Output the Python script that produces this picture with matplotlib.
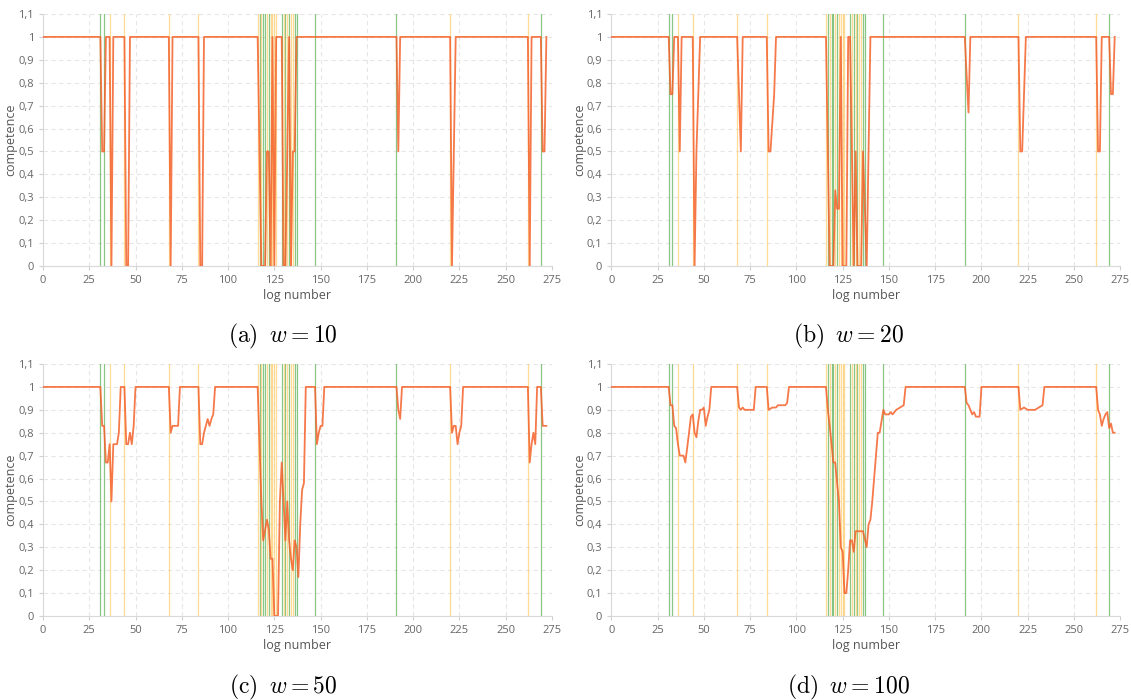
import matplotlib
matplotlib.use("Agg")
import matplotlib.pyplot as plt
from matplotlib.ticker import FuncFormatter, MultipleLocator

# -------------------------------
# DATA (log number -> competence), one series per window size
# -------------------------------

x_w10 = [0, 31, 32, 33, 34, 36, 37, 38, 44, 45, 46, 47, 68, 69, 70, 84, 85, 86, 87,
         116, 117, 118, 119, 120, 121, 122, 123, 124, 125, 126, 127, 128, 129, 130,
         131, 132, 133, 134, 135, 136, 137, 191, 192, 193, 220, 221, 222, 223,
         262, 263, 264, 269, 270, 271, 272]
y_w10 = [1, 1, 0.5, 0.5, 1, 1, 0, 1, 1, 0, 0, 1, 1, 0, 1, 1, 0, 0, 1,
         1, 0.5, 0, 0, 0, 0.5, 0.5, 0, 1, 0, 1, 1, 1, 1, 0,
         0, 0.5, 1, 0, 0.5, 0.5, 1, 1, 0.5, 1, 1, 0, 0.5, 1,
         1, 0, 1, 1, 0.5, 0.5, 1]

x_w20 = [0, 31, 32, 33, 34, 36, 37, 38, 44, 45, 46, 47, 48, 68, 69, 70, 71,
         84, 85, 86, 87, 88, 89, 116, 117, 118, 119, 120, 121, 122, 123, 124,
         125, 126, 127, 128, 129, 130, 131, 132, 133, 134, 135, 136, 137, 138,
         139, 140, 191, 192, 193, 194, 220, 221, 222, 223, 224, 262, 263, 264,
         265, 269, 270, 271, 272]
y_w20 = [1, 1, 0.75, 0.75, 1, 1, 0.5, 1, 1, 0, 0.5, 0.75, 1, 1, 0.75, 0.5, 1,
         1, 0.5, 0.5, 0.625, 0.75, 1, 1, 0.5, 0, 0, 0, 0.33, 0.25, 0.25, 1,
         0, 0, 0, 1, 1, 0.5, 0, 0.5, 0, 0, 0, 0.5, 0.25, 0,
         0.5, 1, 1, 0.83, 0.67, 1, 1, 0.5, 0.5, 0.75, 1, 1, 0.5, 0.5,
         1, 1, 0.75, 0.75, 1]

x_w50 = [0, 31, 32, 33, 34, 35, 36, 37, 38, 40, 41, 42, 44, 45, 46, 47, 48, 49, 50,
         68, 69, 70, 73, 74, 84, 85, 86, 87, 88, 89, 90, 91, 92, 93,
         116, 118, 119, 121, 122, 123, 124, 125, 127, 128, 129, 131, 132, 133,
         134, 135, 136, 137, 138, 139, 140, 141, 142, 147, 148, 149, 150, 151,
         152, 191, 192, 193, 194, 220, 221, 222, 223, 224, 225, 226, 227,
         262, 263, 264, 265, 266, 267, 269, 270, 272]
y_w50 = [1, 1, 0.83, 0.83, 0.67, 0.67, 0.75, 0.5, 0.75, 0.75, 0.8, 1, 1, 0.75, 0.75, 0.8, 0.75, 0.83, 1,
         1, 0.8, 0.83, 0.83, 1, 1, 0.75, 0.75, 0.8, 0.83, 0.86, 0.83, 0.86, 0.88, 1,
         1, 0.5, 0.33, 0.42, 0.38, 0.25, 0.25, 0, 0, 0.5, 0.67, 0.33, 0.5, 0.33,
         0.25, 0.2, 0.33, 0.3, 0.17, 0.4, 0.55, 0.58, 1, 1, 0.75, 0.8, 0.83, 0.83,
         1, 1, 0.9, 0.86, 1, 1, 0.8, 0.83, 0.83, 0.75, 0.8, 0.83, 1,
         1, 0.67, 0.75, 0.8, 0.75, 1, 1, 0.83, 0.83]

x_w100 = [0, 31, 32, 33, 34, 35, 36, 37, 39, 40, 42, 43, 44, 45, 46, 47, 48, 49, 50,
          51, 52, 53, 54, 68, 69, 70, 71, 72, 77, 78, 84, 85, 87, 89, 90, 94, 95, 96,
          116, 117, 118, 119, 120, 121, 122, 123, 124, 125, 126, 127, 128, 129,
          130, 131, 132, 136, 138, 139, 140, 141, 142, 144, 145, 147, 148, 150,
          151, 152, 154, 156, 158, 159, 191, 192, 193, 194, 195, 196, 197, 199,
          200, 220, 221, 223, 225, 229, 231, 233, 234, 262, 263, 264, 265, 266,
          267, 268, 269, 270, 271, 272]
y_w100 = [1, 1, 0.92, 0.92, 0.83, 0.82, 0.75, 0.7, 0.7, 0.67, 0.8, 0.87, 0.88, 0.8, 0.78, 0.85, 0.9, 0.9, 0.91,
          0.83, 0.87, 0.9, 1, 1, 0.91, 0.9, 0.91, 0.9, 0.9, 1, 1, 0.9, 0.91, 0.91, 0.92, 0.92, 0.93, 1,
          1, 0.9, 0.83, 0.75, 0.67, 0.67, 0.58, 0.5, 0.3, 0.28, 0.1, 0.1, 0.2, 0.33,
          0.33, 0.28, 0.37, 0.37, 0.3, 0.4, 0.42, 0.5, 0.6, 0.8, 0.8, 0.9, 0.88, 0.88,
          0.89, 0.88, 0.9, 0.91, 0.92, 1, 1, 0.93, 0.92, 0.9, 0.88, 0.89, 0.87, 0.87,
          1, 1, 0.9, 0.91, 0.9, 0.9, 0.91, 0.92, 1, 1, 0.9, 0.88, 0.83, 0.86,
          0.88, 0.89, 0.82, 0.84, 0.8, 0.8]

# logs marked with a vertical line
green_logs = [31, 33, 117, 119, 120, 122, 129, 131, 133, 136, 137, 147, 191, 269]
yellow_logs = [36, 44, 68, 84, 116, 118, 121, 123, 124, 125, 126, 130, 132, 134, 135, 220, 262]

captions = [r"$\mathrm{(a)}\;\; w = 10$", r"$\mathrm{(b)}\;\; w = 20$",
            r"$\mathrm{(c)}\;\; w = 50$", r"$\mathrm{(d)}\;\; w = 100$"]
series = [(x_w10, y_w10), (x_w20, y_w20), (x_w50, y_w50), (x_w100, y_w100)]

# -------------------------------
# PLOT
# -------------------------------

plt.rcParams['font.family'] = ['Open Sans', 'DejaVu Sans']
plt.rcParams['mathtext.fontset'] = 'cm'

fig = plt.figure(figsize=(11.31, 7.0), dpi=100)

boxes = [[0.038, 0.62, 0.4500, 0.36], [0.5405, 0.62, 0.4500, 0.36],
         [0.038, 0.12, 0.4500, 0.36], [0.5405, 0.12, 0.4500, 0.36]]
caption_pos = [(0.25, 0.519), (0.75, 0.519), (0.25, 0.018), (0.75, 0.018)]


def comma(v, pos):
    if abs(v - round(v)) < 1e-9:
        return "%d" % round(v)
    return ("%.1f" % v).replace(".", ",")


for i in range(4):
    ax = fig.add_axes(boxes[i])
    xs, ys = series[i]

    for g in green_logs:
        ax.axvline(g, color='#74bb6e', lw=0.9, alpha=0.85, zorder=1)
    for y in yellow_logs:
        ax.axvline(y, color='#ffcf70', lw=0.9, alpha=0.75, zorder=1)

    ax.plot(xs, ys, color='#f4622a', lw=1.3, alpha=0.85, zorder=3)

    ax.set_xlim(0, 275)
    ax.set_ylim(0, 1.1)
    ax.xaxis.set_major_locator(MultipleLocator(25))
    ax.yaxis.set_major_locator(MultipleLocator(0.1))
    ax.yaxis.set_major_formatter(FuncFormatter(comma))
    ax.grid(True, color='#e6e6e6', linestyle=(0, (4, 3)), lw=0.8, zorder=0)
    ax.set_axisbelow(True)

    for s in ['top', 'right']:
        ax.spines[s].set_visible(False)
    for s in ['left', 'bottom']:
        ax.spines[s].set_color('#d9d9d9')
    ax.tick_params(colors='#d0d0d0', labelcolor='#666666', labelsize=8, length=3)

    ax.set_xlabel("log number", fontsize=9, color='#555555', labelpad=2)
    ax.set_ylabel("competence", fontsize=9, color='#555555')
    ax.yaxis.set_label_coords(-0.05, 0.5)

    fig.text(caption_pos[i][0], caption_pos[i][1], captions[i], ha='center',
             va='center', fontsize=17)

plt.savefig("out.png", dpi=100)
